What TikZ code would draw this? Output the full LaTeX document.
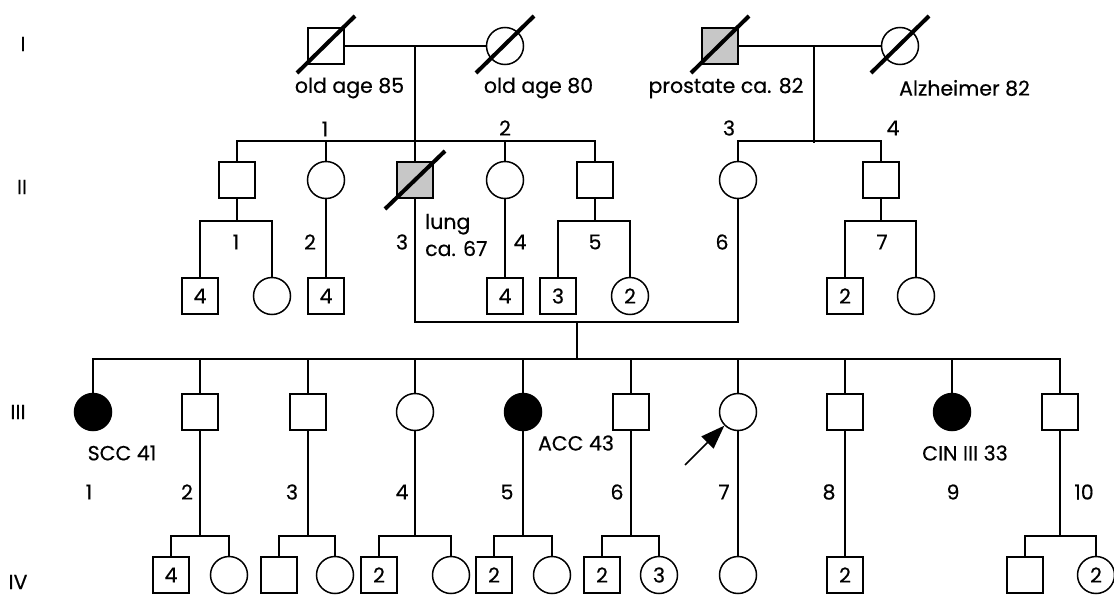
\documentclass[tikz,border=0pt]{standalone}
\usepackage{fontspec}
\setmainfont{Poppins}[FakeBold=0.4]
\usetikzlibrary{arrows.meta}
\newcommand\fs{\fontsize{20.5}{24}\selectfont}
\tikzset{
 sq/.style={draw, line width=1.5pt, minimum size=36pt, inner sep=0pt, fill=white, font=\fs},
 ci/.style={draw, circle, line width=1.5pt, minimum size=37pt, inner sep=0pt, fill=white, font=\fs},
 aff/.style={fill=black},
 gry/.style={fill=black!22},
 txt/.style={inner sep=0pt, font=\fs},
 slash/.style={line width=4pt},
 ln/.style={line width=1.5pt},
}
\begin{document}
\begin{tikzpicture}[x=1pt,y=-1pt]
\useasboundingbox[fill=white] (0,0) rectangle (1114,597);
% generation labels
\node[txt] (gI) at (23,44) {I};
\node[txt] (gII) at (22,187) {II};
\node[txt] (gIII) at (18,412) {III};
\node[txt] (gIV) at (18,582) {IV};
% generation I
\node[sq] (I1) at (326,46) {};
\node[ci] (I2) at (505,46) {};
\node[sq,gry] (I3) at (720,46) {};
\node[ci] (I4) at (900,46) {};
\foreach \n in {I1,I2,I3,I4}{
  \draw[slash] ([shift={(-29,27)}]\n.center) -- ([shift={(29,-30)}]\n.center);
}
\node[txt] (tI1) at (349.5,88) {old age 85};
\node[txt] (tI2) at (538.5,88) {old age 80};
\node[txt] (tI3) at (726,88) {prostate ca. 82};
\node[txt] (tI4) at (964.5,88) {Alzheimer 82};
\node[txt] (n1) at (325,129) {1};
\node[txt] (n2) at (505,128) {2};
\node[txt] (n3) at (729,128) {3};
\node[txt] (n4) at (893,128) {4};
% generation II
\node[sq] (II1) at (237,180) {};
\node[ci] (II2) at (326,180) {};
\node[sq,gry] (II3) at (415,180) {};
\node[ci] (II4) at (505,180) {};
\node[sq] (II5) at (595,180) {};
\node[ci] (II6) at (738,180) {};
\node[sq] (II7) at (881,180) {};
\draw[slash] ([shift={(-30,29)}]II3.center) -- ([shift={(30,-29)}]II3.center);
\node[txt, anchor=west, align=left, font=\fontsize{20.5}{27}\selectfont] (tII3) at (425,235) {lung\\ca. 67};
\node[txt] (k1) at (236,242) {1};
\node[txt] (k2) at (310,242) {2};
\node[txt] (k3) at (402,242) {3};
\node[txt] (k4) at (520,242) {4};
\node[txt] (k5) at (595,242) {5};
\node[txt] (k6) at (722,242) {6};
\node[txt] (k7) at (882,242) {7};
% children of generation II
\node[sq] (C1a) at (200,296) {4};
\node[ci] (C1b) at (272,296) {};
\node[sq] (C2) at (326,296) {4};
\node[sq] (C4) at (505,296) {4};
\node[sq] (C5a) at (558,296) {3};
\node[ci] (C5b) at (630,296) {2};
\node[sq] (C7a) at (845,296) {2};
\node[ci] (C7b) at (916,296) {};
% generation III
\node[ci,aff] (III1) at (93,412) {};
\node[sq] (III2) at (200,412) {};
\node[sq] (III3) at (308,412) {};
\node[ci] (III4) at (415,412) {};
\node[ci,aff] (III5) at (523,412) {};
\node[sq] (III6) at (631,412) {};
\node[ci] (III7) at (738,412) {};
\node[sq] (III8) at (845,412) {};
\node[ci,aff] (III9) at (952,412) {};
\node[sq] (III10) at (1060,412) {};
\node[txt] (tIII1) at (122,453) {SCC 41};
\node[txt] (tIII5) at (576,443) {ACC 43};
\node[txt] (tIII9) at (965,453) {CIN III 33};
\node[txt] (j1) at (89,492) {1};
\node[txt] (j2) at (187,492) {2};
\node[txt] (j3) at (292,492) {3};
\node[txt] (j4) at (402,492) {4};
\node[txt] (j5) at (507,492) {5};
\node[txt] (j6) at (617,492) {6};
\node[txt] (j7) at (724,492) {7};
\node[txt] (j8) at (829,492) {8};
\node[txt] (j9) at (953,492) {9};
\node[txt] (j10) at (1084,492) {10};
% generation IV
\node[sq] (D2a) at (171,575) {4};
\node[ci] (D2b) at (229,575) {};
\node[sq] (D3a) at (279,575) {};
\node[ci] (D3b) at (335,575) {};
\node[sq] (D4a) at (379,575) {2};
\node[ci] (D4b) at (451,575) {};
\node[sq] (D5a) at (494,575) {2};
\node[ci] (D5b) at (552,575) {};
\node[sq] (D6a) at (602,575) {2};
\node[ci] (D6b) at (659,575) {3};
\node[ci] (D7) at (738,575) {};
\node[sq] (D8) at (845,575) {2};
\node[sq] (D10a) at (1025,575) {};
\node[ci] (D10b) at (1096,575) {2};
% junction coordinates
\coordinate (m1) at (415,46);
\coordinate (m2) at (814,46);
\coordinate (s1) at (415,141);
\coordinate (s2) at (814,143);
\coordinate (t1) at (237,221);
\coordinate (t5) at (595,221);
\coordinate (t7) at (881,221);
\coordinate (u) at (577,322);
\coordinate (s3) at (577,359);
\coordinate (v2) at (200,536);
\coordinate (v3) at (308,536);
\coordinate (v4) at (415,536);
\coordinate (v5) at (523,536);
\coordinate (v6) at (631,536);
\coordinate (v10) at (1060,536);
\coordinate (ar) at (685,465);
% connectors
\begin{scope}[ln]
\draw (I1) -- (I2);
\draw (I3) -- (I4);
\draw (m1) -- (II3);
\draw (m2) -- (s2);
\draw (II1.north) |- (s1) -| (II5.north);
\draw (II2.north) -- (II2.north |- s1);
\draw (II4.north) -- (II4.north |- s1);
\draw (II6.north) |- (814,141) -| (II7.north);
\draw (II1) -- (t1);
\draw (C1a.north) |- (t1) -| (C1b.north);
\draw (II2) -- (C2);
\draw (II4) -- (C4);
\draw (II5) -- (t5);
\draw (C5a.north) |- (t5) -| (C5b.north);
\draw (II7) -- (t7);
\draw (C7a.north) |- (t7) -| (C7b.north);
\draw (II3.south) |- (u) -| (II6.south);
\draw (u) -- (s3);
\draw (III1.north) |- (s3) -| (III10.north);
\foreach \n in {III2,III3,III4,III5,III6,III7,III8,III9}{
  \draw (\n.north) -- (\n.north |- s3);
}
\foreach \n/\c in {III2/2,III3/3,III4/4,III5/5,III6/6,III10/10}{
  \draw (\n) -- (v\c);
  \draw (D\c a.north) |- (v\c) -| (D\c b.north);
}
\draw (III7) -- (D7);
\draw (III8) -- (D8);
\draw[-{Triangle[length=24pt,width=17pt]}] (ar) -- (III7);
\end{scope}
\end{tikzpicture}
\end{document}
